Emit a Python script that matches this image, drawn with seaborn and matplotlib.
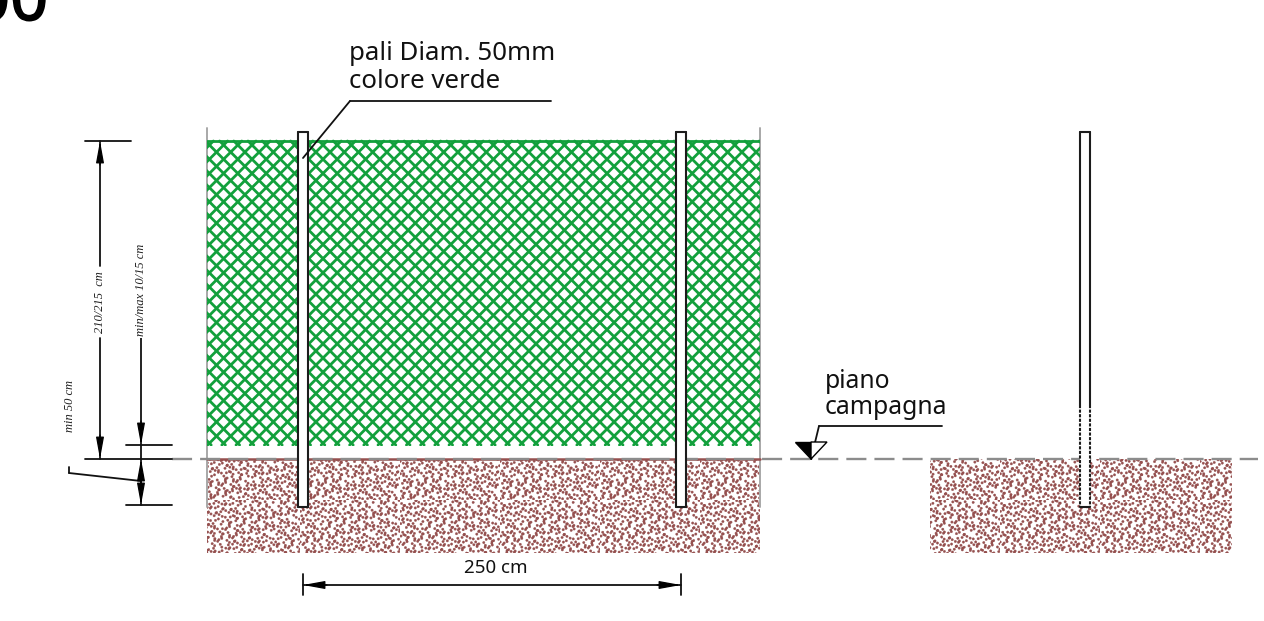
import numpy as np
import pandas as pd
import matplotlib
matplotlib.use('Agg')
import matplotlib.pyplot as plt
import matplotlib.hatch as mhatch
import matplotlib.patheffects as pe
from matplotlib.path import Path
from matplotlib.patches import Rectangle, Polygon
import seaborn as sns

# everything is measured in reference pixels
net_left, net_right = 207, 760
net_top, net_bottom = 141, 445
net_pitch = 14.2
ground_y = 459
soil_bottom = 553
soil_blocks = [(207, 760), (930, 1232)]
post_lefts = [298, 676, 1080]
post_width = 10
post_top, post_bottom = 132, 507

# label, x, y, size
leader_text = [('pali Diam. 50mm', 349, 53, 18.6), ('colore verde', 349, 82, 18.6),
               ('piano', 825, 381, 17.8), ('campagna', 825, 408, 17.8)]
rot_text = [('210/215  cm', 100, 302), ('min/max 10/15 cm', 141, 290), ('min 50 cm', 70, 406)]

# x0, y0, x1, y1
black_thin = [(85, 141, 131, 141), (100, 141, 100, 266), (100, 338, 100, 459),
              (85, 459, 172, 459), (141, 337, 141, 505), (126, 445, 172, 445),
              (126, 505, 172, 505), (141, 481, 69, 473), (69, 473, 69, 467),
              (303, 585, 681, 585), (303, 574, 303, 595), (681, 574, 681, 595),
              (350, 101, 551, 101), (350, 101, 303, 158),
              (819, 426, 942, 426), (819, 426, 811, 459)]
gray_edges = [(207, 128, 207, 507), (760, 128, 760, 507)]
# tail x, tail y, tip x, tip y
arrow_tips = [(100, 165, 100, 141), (100, 435, 100, 459), (141, 421, 141, 445),
              (141, 483, 141, 459), (141, 481, 141, 505),
              (327, 585, 303, 585), (657, 585, 681, 585)]


class SoilStipple(mhatch.HatchPatternBase):
    # fill pattern for the soil: short runs of dots on a low discrepancy sequence
    runs = 340
    dots = 2
    radius = 0.0115
    angles = [-40, 25, -15, 55, -60]

    def __init__(self, hatch, density):
        self.circle = Path.unit_circle()
        self.num_vertices = self.runs * self.dots * len(self.circle.vertices) if '*' in hatch else 0

    def set_vertices_and_codes(self, vertices, codes):
        k = len(self.circle.vertices)
        pos = 0
        for n in range(self.runs):
            cx, cy = (0.5 + n * 0.7548777) % 1, (0.5 + n * 0.5698403) % 1
            ang = np.radians(self.angles[int(((n * 0.618034) % 1) * len(self.angles))])
            for d in range(self.dots):
                x = (cx + d * 0.032 * np.cos(ang)) % 1
                y = (cy + d * 0.032 * np.sin(ang)) % 1
                vertices[pos:pos + k] = self.circle.vertices * self.radius + (x, y)
                codes[pos:pos + k] = self.circle.codes
                pos += k


mhatch._hatch_types = [SoilStipple]


def draw_segments(ax, segs, color, lw, **kw):
    rows = []
    for i, (x0, y0, x1, y1) in enumerate(segs):
        rows.append((i, x0, y0))
        rows.append((i, x1, y1))
    df = pd.DataFrame(rows, columns=['seg', 'x', 'y'])
    return sns.lineplot(data=df, x='x', y='y', units='seg', estimator=None, sort=False,
                        color=color, linewidth=lw, ax=ax, legend=False, **kw)


sns.set_theme(style='white')
plt.rcParams['font.family'] = ['Noto Sans', 'DejaVu Sans']
plt.rcParams['hatch.linewidth'] = 0.3

fig = plt.figure(figsize=(12.64, 6.21), dpi=100)
ax = fig.add_axes([0, 0, 1, 1])
ax.set_xlim(0, 1264)
ax.set_ylim(621, 0)
ax.axis('off')

draw_segments(ax, gray_edges, '#a8a8a8', 1.4)

# green net
height = net_bottom - net_top
offsets = np.arange(net_left - height - net_pitch, net_right + net_pitch, net_pitch) + 6
net_segs = [(o - 1.8, net_top, o - 1.8 + height, net_bottom) for o in offsets]
net_segs += [(o + 0.4 + height, net_top, o + 0.4, net_bottom) for o in offsets]
net_segs += [(net_left, net_top, net_right, net_top)]
n_before = len(ax.lines)
draw_segments(ax, net_segs, '#12a03c', 2.0)
clip = Rectangle((net_left, net_top - 2), net_right - net_left, height + 3, transform=ax.transData)
for line in ax.lines[n_before:]:
    line.set_clip_path(clip)

# soil
for left, right in soil_blocks:
    ax.add_patch(Rectangle((left, ground_y), right - left, soil_bottom - ground_y, fill=False,
                           edgecolor='#95504f', lw=0, hatch='*'))
draw_segments(ax, [(207, ground_y, 760, ground_y)], '#95504f', 1.8)

draw_segments(ax, [(172, ground_y, 1258, ground_y)], '#8c8c8c', 1.7)
ax.lines[-1].set_dashes((8.5, 3.4))

# posts
for i, left in enumerate(post_lefts):
    ax.add_patch(Rectangle((left, post_top), post_width, post_bottom - post_top,
                           facecolor='white', edgecolor='none', zorder=3))
    if i < 2:
        segs = [(left, post_top, left, post_bottom), (left + post_width, post_top, left + post_width, post_bottom)]
    else:
        segs = [(left, post_top, left, 405), (left + post_width, post_top, left + post_width, 405)]
    segs += [(left, post_top, left + post_width, post_top), (left, post_bottom, left + post_width, post_bottom)]
    draw_segments(ax, segs, '#1c1c1c', 1.5, zorder=4)
    if i == 2:
        draw_segments(ax, [(left, 405, left, post_bottom), (left + post_width, 405, left + post_width, post_bottom)],
                      '#1c1c1c', 1.5, zorder=4)
        ax.lines[-1].set_dashes((1.5, 0.7))
        ax.lines[-2].set_dashes((1.5, 0.7))

# dimension lines
draw_segments(ax, black_thin, '#111111', 1.3, zorder=5)
for x0, y0, x1, y1 in arrow_tips:
    ax.annotate('', xy=(x1, y1), xytext=(x0, y0), zorder=6,
                arrowprops=dict(arrowstyle='-|>,head_length=1.1,head_width=0.2', color='black',
                                lw=0.9, shrinkA=0, shrinkB=0))

# ground level symbol
ax.add_patch(Polygon([(795, 442), (811, 442), (811, 459)], facecolor='black', edgecolor='black', lw=1, zorder=6))
ax.add_patch(Polygon([(811, 442), (827, 442), (811, 459)], facecolor='white', edgecolor='black', lw=1, zorder=6))

for label, x, y, size in leader_text:
    ax.text(x, y, label, fontsize=size, ha='left', va='center', color='#111111')
ax.text(496, 568, '250 cm', fontsize=13.5, ha='center', va='center', color='#111111')
for label, x, y in rot_text:
    ax.text(x, y, label, fontsize=9, rotation=90, ha='center', va='center', color='#222222',
            family='Liberation Serif', style='italic',
            bbox=dict(facecolor='white', edgecolor='none', pad=1.5), zorder=7)

# the page number is cut by the top edge
ax.text(-28, 20, '00', fontsize=48, ha='left', va='baseline', color='black',
        path_effects=[pe.withStroke(linewidth=1.2, foreground='black')])

fig.savefig('out.png', dpi=100)
